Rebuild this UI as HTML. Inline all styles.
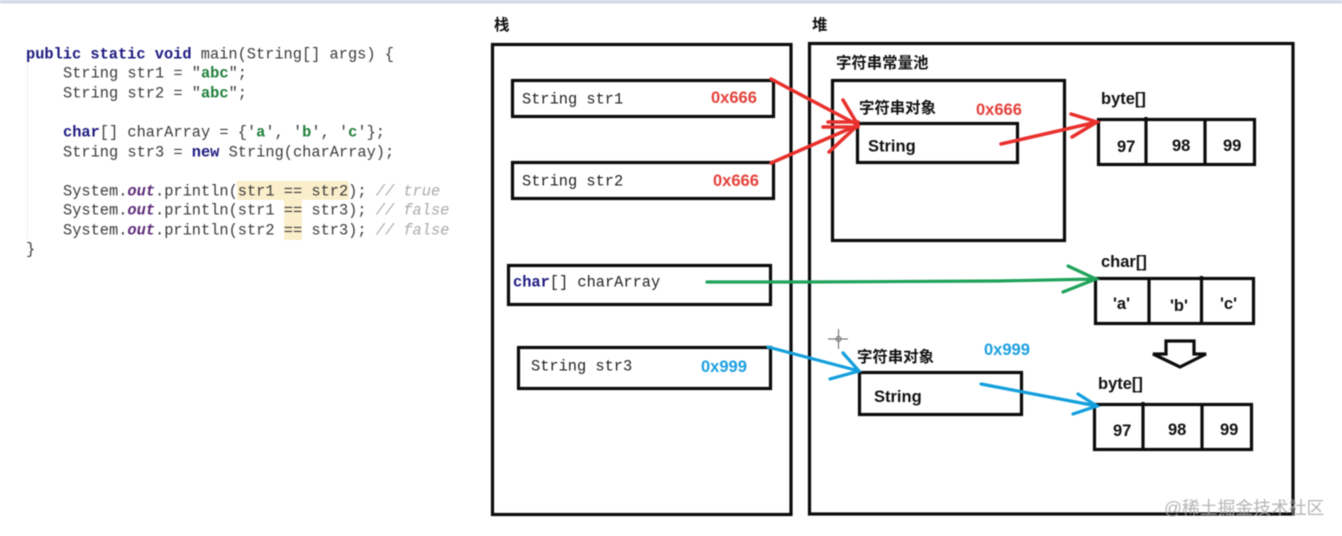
<!DOCTYPE html>
<html><head><meta charset="utf-8"><style>
html,body{margin:0;padding:0;background:#fff;width:1342px;height:536px;overflow:hidden}
svg{display:block;filter:blur(.45px)}
.c{font:15.33px "Liberation Mono",monospace;fill:#3a3a3a;white-space:pre}
.k{font-weight:bold;fill:#1d1a80}.s{font-weight:bold;fill:#1f7f3a}.o{font-weight:bold;font-style:italic;fill:#5c2a78}.m{fill:#aaa;font-style:italic}
.n{font:bold 16.5px "Liberation Sans",sans-serif;fill:#111}
.z{font:bold 15.4px "Noto Sans CJK SC",sans-serif;fill:#111}
.r{font:bold 16.5px "Liberation Sans",sans-serif;fill:#e5403a}
.u{font:bold 16.5px "Liberation Sans",sans-serif;fill:#1d9fe0}
.d{font:15.33px "Liberation Mono",monospace;fill:#222;white-space:pre}
rect.x{fill:none;stroke:#0c0c0c;stroke-width:3.2}
path.l{fill:none;stroke:#0c0c0c;stroke-width:3.2}
</style></head><body>
<svg width="1342" height="536" viewBox="0 0 1342 536" xmlns="http://www.w3.org/2000/svg">
<rect x="-2" y="-2" width="1346" height="5.5" fill="#d5d9ea"/>
<line x1="27.5" y1="62" x2="27.5" y2="240" stroke="#f0f0f0"/>
<rect x="237" y="181" width="112" height="19" fill="#fbeecb"/>
<rect x="284" y="200" width="18" height="40" fill="#fbeecb"/>
<text class="c" x="26" y="58.6"><tspan class="k">public static void</tspan> main(String[] args) {</text>
<text class="c" x="63" y="77.6">String str1 = "<tspan class="s">abc</tspan>";</text>
<text class="c" x="63" y="97.6">String str2 = "<tspan class="s">abc</tspan>";</text>
<text class="c" x="63" y="136.6"><tspan class="k">char</tspan>[] charArray = {'<tspan class="s">a</tspan>', '<tspan class="s">b</tspan>', '<tspan class="s">c</tspan>'};</text>
<text class="c" x="63" y="156.6">String str3 = <tspan class="k">new</tspan> String(charArray);</text>
<text class="c" x="63" y="195.6">System.<tspan class="o">out</tspan>.println(str1 == str2); <tspan class="m">// true</tspan></text>
<text class="c" x="63" y="214.6">System.<tspan class="o">out</tspan>.println(str1 == str3); <tspan class="m">// false</tspan></text>
<text class="c" x="63" y="234.6">System.<tspan class="o">out</tspan>.println(str2 == str3); <tspan class="m">// false</tspan></text>
<text class="c" x="26" y="253.6">}</text>

<text class="z" x="494" y="30">栈</text>
<text class="z" x="812" y="30">堆</text>
<rect class="x" x="492.5" y="44.5" width="298.5" height="470"/>
<rect class="x" x="809.5" y="43.5" width="483.5" height="470.5"/>

<rect class="x" x="512.5" y="80.5" width="261" height="36"/>
<rect class="x" x="512.5" y="162.5" width="261" height="36"/>
<rect class="x" x="508.5" y="265.5" width="262" height="39"/>
<rect class="x" x="518.5" y="347.5" width="252" height="41"/>
<text class="d" x="522" y="103.6">String str1</text>
<text class="d" x="522" y="185.6">String str2</text>
<text class="d" x="513" y="286.6"><tspan class="k">char</tspan>[] charArray</text>
<text class="d" x="531" y="370.6">String str3</text>
<text class="r" x="711" y="103">0x666</text>
<text class="r" x="713" y="186">0x666</text>
<text class="u" x="701" y="372">0x999</text>

<text class="z" x="836" y="68">字符串常量池</text>
<rect class="x" x="832.5" y="80.5" width="232" height="160"/>
<text class="z" x="859" y="113">字符串对象</text>
<text class="r" x="976" y="115">0x666</text>
<rect class="x" x="857.5" y="123.5" width="160" height="39"/>
<text class="n" x="868" y="151.5">String</text>

<text class="n" x="1101" y="104">byte[]</text>
<rect class="x" x="1098.5" y="119.5" width="156" height="45"/>
<path class="l" d="M1146 117V165M1205 119V165"/>
<text class="n" x="1117" y="152">97</text><text class="n" x="1172" y="151">98</text><text class="n" x="1223" y="151">99</text>

<text class="n" x="1101" y="267">char[]</text>
<rect class="x" x="1095.5" y="278.5" width="158" height="45"/>
<path class="l" d="M1149 278V323M1201.5 276V322"/>
<text class="n" x="1113" y="309">'a'</text><text class="n" x="1170" y="311">'b'</text><text class="n" x="1220" y="309">'c'</text>

<path d="M1166 341H1194V354H1206L1180 367L1153 354H1166Z" fill="#fff" stroke="#0c0c0c" stroke-width="3.2"/>

<text class="z" x="857" y="362">字符串对象</text>
<text class="u" x="984" y="355">0x999</text>
<rect class="x" x="859.5" y="372.5" width="162" height="42"/>
<text class="n" x="874" y="402">String</text>

<text class="n" x="1098" y="389">byte[]</text>
<rect class="x" x="1094.5" y="404.5" width="157" height="45"/>
<path class="l" d="M1143 402V450M1202 404V450"/>
<text class="n" x="1113" y="436">97</text><text class="n" x="1168" y="435">98</text><text class="n" x="1220" y="435">99</text>

<g fill="none" stroke="#e8302c" stroke-width="3.5" stroke-linecap="round">
<path d="M771 79L858 125M771 163L858 125"/>
<path d="M828 122H858M823 127H858M843 100L858 125L829 152"/>
<path d="M1001 144L1097 122M1071 114L1097 122L1072 137"/>
</g>
<g fill="none" stroke="#1fa35a" stroke-width="3.2" stroke-linecap="round">
<path d="M707 282H805L998 281L1096 279M1068 266L1096 279L1063 292"/>
</g>
<g fill="none" stroke="#129fdc" stroke-width="3.2" stroke-linecap="round">
<path d="M768 347L859 371M843 353L859 371L830 379"/>
<path d="M981 384L1097 406M1078 394L1097 406L1073 414"/>
</g>

<g fill="none" stroke="#666" stroke-width="1">
<circle cx="838.5" cy="339" r="2.5"/>
<path d="M838.5 329V349M828 339H848"/>
</g>

<text x="1164" y="514" font-family="'Liberation Sans','Noto Sans CJK SC',sans-serif" font-size="17.8" fill="#a8a8a8" fill-opacity=".85">@稀土掘金技术社区</text>
</svg>
</body></html>
